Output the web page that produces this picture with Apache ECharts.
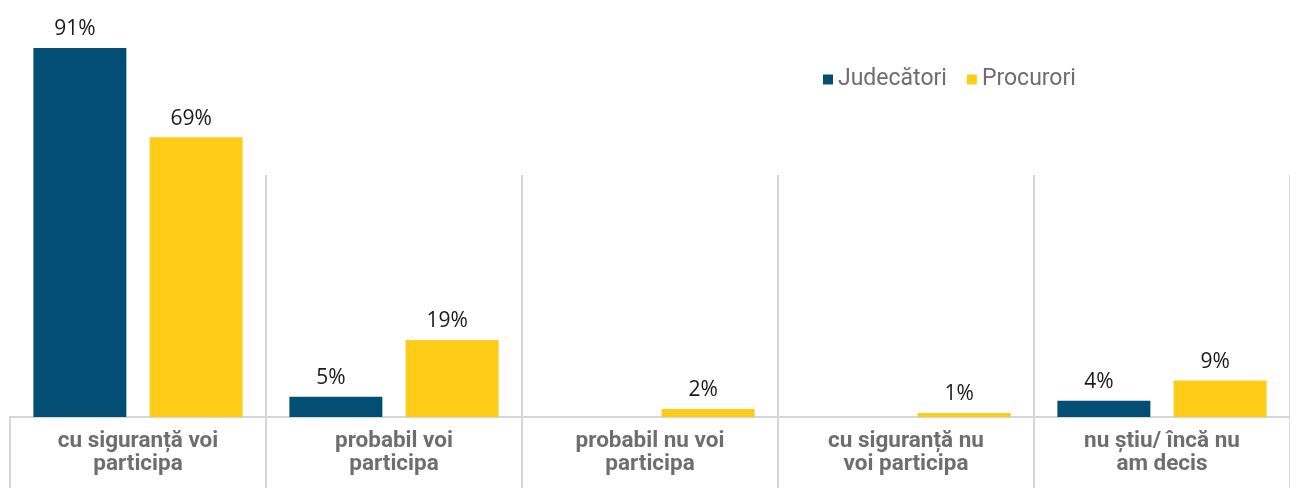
<!DOCTYPE html>
<html>
<head>
<meta charset="utf-8">
<script src="https://cdn.jsdelivr.net/npm/echarts@6/dist/echarts.min.js"></script>
<style>
  html, body { margin: 0; padding: 0; background: #ffffff; }
  #chart { width: 1290px; height: 488px; }
</style>
</head>
<body>
<div id="chart"></div>
<script>
// Survey answers: intention to participate, judges vs prosecutors (%)
const categories = [
  'cu siguranță voi\nparticipa',
  'probabil voi\nparticipa',
  'probabil nu voi\nparticipa',
  'cu siguranță nu\nvoi participa',
  'nu știu/ încă nu\nam decis'
];
const judecatori = [91, 5, 0, 0, 4];
const procurori = [69, 19, 2, 1, 9];
const seriesNames = ['Judecători', 'Procurori'];

const DARK = '#024e74';
const YELLOW = '#fecb17';
const LINE = '#d6d6d6';

const chart = echarts.init(document.getElementById('chart'), null, { renderer: 'canvas' });

const valueLabel = {
  show: true,
  position: 'top',
  distance: 8,
  offset: [-5, 0],
  fontFamily: 'Open Sans',
  fontSize: 21,
  color: '#1a1a1a',
  formatter: p => (p.value > 0 ? p.value + '%' : '')
};

chart.setOption({
  animation: false,
  legend: {
    data: seriesNames,
    left: 818,
    top: 63,
    itemWidth: 10,
    itemHeight: 10,
    itemGap: 20,
    icon: 'rect',
    textStyle: { fontFamily: 'Roboto', fontSize: 23, color: '#6e6e6e' }
  },
  grid: [
    { left: 10, right: -2, top: 11.5, bottom: 71 },
    { left: 10, right: -2, top: 175, bottom: 71 }
  ],
  xAxis: [
    {
      type: 'category',
      gridIndex: 0,
      data: categories,
      axisLine: { show: true, lineStyle: { color: LINE, width: 2 } },
      axisTick: { show: true, length: 71, lineStyle: { color: LINE, width: 2 } },
      axisLabel: {
        margin: 13,
        fontFamily: 'Roboto',
        fontWeight: 'bold',
        fontSize: 22.5,
        lineHeight: 23,
        color: '#6e6e6e',
        interval: 0
      },
      splitLine: { show: false }
    },
    {
      type: 'category',
      gridIndex: 1,
      data: categories,
      axisLine: { show: false },
      axisTick: { show: false },
      axisLabel: { show: false },
      splitLine: {
        show: true,
        interval: (index) => index > 0,
        lineStyle: { color: LINE, width: 2 }
      }
    }
  ],
  yAxis: [
    { type: 'value', gridIndex: 0, min: 0, max: 100, show: false, splitLine: { show: false } },
    { type: 'value', gridIndex: 1, show: false, splitLine: { show: false } }
  ],
  series: [
    {
      name: seriesNames[0],
      type: 'bar',
      xAxisIndex: 0,
      yAxisIndex: 0,
      data: judecatori,
      barWidth: 93,
      barGap: '25%',
      itemStyle: { color: DARK },
      label: valueLabel
    },
    {
      name: seriesNames[1],
      type: 'bar',
      xAxisIndex: 0,
      yAxisIndex: 0,
      data: procurori,
      barWidth: 93,
      barGap: '25%',
      itemStyle: { color: YELLOW },
      label: valueLabel
    }
  ]
});
</script>
</body>
</html>
